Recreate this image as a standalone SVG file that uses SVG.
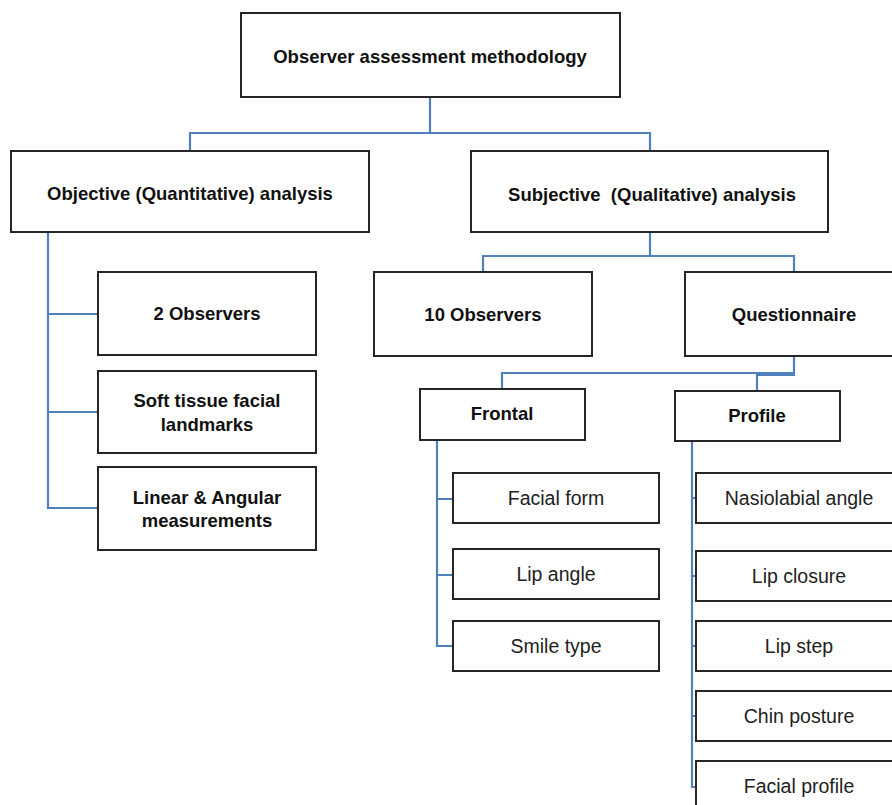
<svg xmlns="http://www.w3.org/2000/svg" width="892" height="805" viewBox="0 0 892 805">
<style>
.box{fill:#fff;stroke:#262626;stroke-width:2}
.c{fill:none;stroke:#4f81bd;stroke-width:2.2}
.b{font-family:"Liberation Sans",Arial,sans-serif;font-weight:bold;font-size:18.5px;fill:#111;text-anchor:middle;dominant-baseline:central}
.r{font-family:"Liberation Sans",Arial,sans-serif;font-size:19.5px;fill:#222;text-anchor:middle;dominant-baseline:central}
</style>
<rect width="892" height="805" fill="#fff"/>
<g id="connectors">
<path class="c" d="M430 97 V133 M190 151 V133 H650 V151"/>
<path class="c" d="M48 232 V508 H98 M48 314 H98 M48 412 H98"/>
<path class="c" d="M650 232 V256 M483 272 V256 H794 V272"/>
<path class="c" d="M794 356 V373 H502 V389 M794 356 V375 H757 V391"/>
<path class="c" d="M437 440 V646 H453 M437 499 H453 M437 575 H453"/>
<path class="c" d="M692 441 V787 H696 M692 498 H696 M692 576 H696 M692 646 H696 M692 716 H696"/>
</g>
<g id="root"><rect class="box" x="241" y="13" width="379" height="84"/><text class="b" x="430" y="56">Observer assessment methodology</text></g>
<g id="objective"><rect class="box" x="11" y="151" width="358" height="81"/><text class="b" x="190" y="193">Objective (Quantitative) analysis</text></g>
<g id="subjective"><rect class="box" x="471" y="151" width="357" height="81"/><text class="b" x="652" y="194" style="white-space:pre">Subjective  (Qualitative) analysis</text></g>
<g id="obs2"><rect class="box" x="98" y="272" width="218" height="83"/><text class="b" x="207" y="313">2 Observers</text></g>
<g id="softtissue"><rect class="box" x="98" y="371" width="218" height="82"/><text class="b" x="207" y="400">Soft tissue facial</text><text class="b" x="207" y="424">landmarks</text></g>
<g id="linear"><rect class="box" x="98" y="467" width="218" height="83"/><text class="b" x="207" y="497">Linear &amp; Angular</text><text class="b" x="207" y="520">measurements</text></g>
<g id="obs10"><rect class="box" x="374" y="272" width="218" height="84"/><text class="b" x="483" y="314">10 Observers</text></g>
<g id="questionnaire"><rect class="box" x="685" y="272" width="218" height="84"/><text class="b" x="794" y="314">Questionnaire</text></g>
<g id="frontal"><rect class="box" x="420" y="389" width="165" height="51"/><text class="b" x="502" y="413">Frontal</text></g>
<g id="profile"><rect class="box" x="675" y="391" width="165" height="50"/><text class="b" x="757" y="415">Profile</text></g>
<g id="facialform"><rect class="box" x="453" y="473" width="206" height="50"/><text class="r" x="556" y="498">Facial form</text></g>
<g id="lipangle"><rect class="box" x="453" y="549" width="206" height="50"/><text class="r" x="556" y="574">Lip angle</text></g>
<g id="smiletype"><rect class="box" x="453" y="621" width="206" height="50"/><text class="r" x="556" y="646">Smile type</text></g>
<g id="nasiolabial"><rect class="box" x="696" y="473" width="208" height="50"/><text class="r" x="799" y="498">Nasiolabial angle</text></g>
<g id="lipclosure"><rect class="box" x="696" y="551" width="208" height="50"/><text class="r" x="799" y="576">Lip closure</text></g>
<g id="lipstep"><rect class="box" x="696" y="621" width="208" height="50"/><text class="r" x="799" y="646">Lip step</text></g>
<g id="chinposture"><rect class="box" x="696" y="691" width="208" height="50"/><text class="r" x="799" y="716">Chin posture</text></g>
<g id="facialprofile"><rect class="box" x="696" y="761" width="208" height="60"/><text class="r" x="799" y="786">Facial profile</text></g>
</svg>
